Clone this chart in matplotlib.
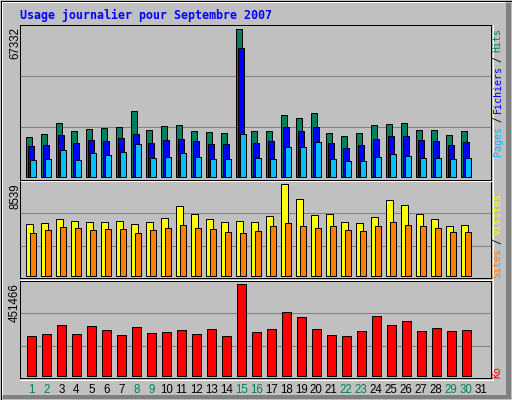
import numpy as np
import matplotlib
matplotlib.use('Agg')
import matplotlib.pyplot as plt
from matplotlib.patches import Rectangle
from matplotlib.lines import Line2D

# daily values, Septembre 2007 (day 31 has no data)
days = np.arange(1, 32)
hits = [18430, 19800, 24830, 21170, 22090, 22550, 23010, 29860, 21630, 23460,
        23920, 21170, 20720, 20260, 67332, 21170, 21170, 28490, 27120, 28950,
        20260, 18890, 20260, 23920, 24380, 24830, 21630, 21630, 19360, 21170, 0]
fichiers = [14020, 14780, 19040, 15690, 17060, 16600, 17980, 19800, 15690, 17060,
            17520, 16600, 15230, 15230, 58660, 15690, 16600, 23010, 21170, 23010,
            15690, 13400, 14780, 17520, 18890, 18890, 17060, 16600, 14780, 16140, 0]
pages = [7920, 8380, 12490, 7920, 11120, 10210, 11580, 15230, 8840, 9290,
         11120, 9290, 8380, 8380, 19800, 8840, 8380, 13860, 13860, 16140,
         8380, 7460, 7460, 9290, 10660, 9750, 8840, 8840, 8380, 8840, 0]
visites = [4811, 4904, 5277, 5091, 4997, 4997, 5091, 4811, 4997, 5370,
           6487, 5742, 5277, 4997, 5091, 4997, 5556, 8539, 7139, 5649,
           5742, 4997, 4904, 5463, 7046, 6580, 5742, 5277, 4625, 4718, 0]
sites = [3973, 4252, 4532, 4439, 4252, 4346, 4346, 3973, 4252, 4439,
         4718, 4439, 4346, 4066, 3973, 4159, 4625, 4904, 4625, 4439,
         4625, 4252, 4159, 4625, 4997, 4718, 4625, 4439, 4066, 4066, 0]
ko = [193500, 203400, 248100, 203400, 243100, 223300, 198500, 238200, 208400, 213400,
      223300, 203400, 228300, 193500, 451466, 213400, 228300, 312600, 287800, 228300,
      198500, 193500, 218300, 292800, 248100, 268000, 218300, 233200, 218300, 223300, 0]
weekend = [1, 2, 8, 9, 15, 16, 22, 23, 29, 30]
title = 'Usage journalier pour Septembre 2007'

BG = '#C0C0C0'
GRID = '#808080'
C_HITS, C_FILES, C_PAGES = '#00805C', '#0000FF', '#00C0FF'
C_VISITS, C_SITES, C_KB = '#FFFF00', '#FF8000', '#FF0000'

W, H = 512, 400
PX = 0.72  # one pixel in points at dpi 100

fig = plt.figure(figsize=(5.12, 4.0), dpi=100)
fig.patch.set_facecolor(BG)


def fx(x):
    return x / W


def fy(y):
    return 1 - y / H


def line(x0, y0, x1, y1, color, lw=1):
    fig.add_artist(Line2D([fx(x0), fx(x1)], [fy(y0), fy(y1)], transform=fig.transFigure,
                          color=color, lw=lw * PX, solid_capstyle='butt'))


# outer frame: shadow, white bevel, black border
fig.add_artist(Rectangle((fx(506), fy(399)), fx(5), 1 - fy(396), transform=fig.transFigure,
                         facecolor=GRID, edgecolor='none'))
fig.add_artist(Rectangle((fx(3), fy(399)), fx(508), 1 - fy(4.5), transform=fig.transFigure,
                         facecolor=GRID, edgecolor='none'))
line(1.5, 1.5, 505, 1.5, 'white')
line(1.5, 1.5, 1.5, 395, 'white')
fig.add_artist(Rectangle((fx(0.5), fy(399.5)), fx(511), 1 - fy(399), transform=fig.transFigure,
                         facecolor='none', edgecolor='black', lw=PX))

x_left, x_right = 20, 491
xlim = (1 + (x_left - 25) / 15, 1 + (x_right - 25) / 15)


def panel(top, bot, base, peak, vmax, grid_px):
    ax = fig.add_axes([fx(x_left), fy(bot), fx(x_right - x_left), (bot - top) / H])
    ax.set_facecolor(BG)
    s = vmax / (base - peak)
    ax.set_ylim(-(bot - base) * s, (base - top) * s)
    ax.set_xlim(*xlim)
    for g in grid_px:
        ax.axhline((base - g) * s, color=GRID, lw=PX, zorder=0)
    for sp in ax.spines.values():
        sp.set_color('black')
        sp.set_linewidth(PX)
    ax.set_xticks([])
    ax.set_yticks([])
    # white bevel on the right and bottom
    line(x_right + 1.5, top, x_right + 1.5, bot + 1.5, 'white')
    line(x_left, bot + 1.5, x_right + 1.5, bot + 1.5, 'white')
    return ax


def bars(ax, vals, off, w, color):
    v = np.array(vals, dtype=float)
    m = v > 0
    ax.bar(days[m] + off / 15, v[m], width=w / 15, align='edge', color=color,
           edgecolor='black', lw=PX, zorder=2)


ax1 = panel(25, 179.5, 177, 29.3, max(hits), [76, 127])
bars(ax1, hits, 0.8, 6, C_HITS)
bars(ax1, fichiers, 2.8, 6, C_FILES)
bars(ax1, pages, 4.8, 6, C_PAGES)

ax2 = panel(181, 278, 276, 184.3, max(visites), [213.3, 246.3])
bars(ax2, visites, 0.8, 7.4, C_VISITS)
bars(ax2, sites, 4.8, 6, C_SITES)

ax3 = panel(281, 378, 375.5, 284.3, max(ko), [313.3, 346.3])
bars(ax3, ko, 1.8, 9, C_KB)

# day labels
ax3.set_xticks(days + 6.3 / 15)
ax3.set_xticklabels([str(d) for d in days], fontsize=8.3, family='Liberation Sans')
ax3.tick_params(axis='x', length=0, pad=4.5)
for d, lab in zip(days, ax3.get_xticklabels()):
    lab.set_color(C_HITS if d in weekend else 'black')

# max values at the top left of each panel
for top, v in [(25, max(hits)), (181, max(visites)), (281, max(ko))]:
    fig.text(fx(15.2), fy(top + 2), str(v), rotation=90, ha='center', va='top',
             fontsize=8.3, family='Liberation Sans', color='black')

fig.text(fx(20), fy(15), title, ha='left', va='center', color='#0000FF',
         fontsize=8.4, fontweight='bold', family='DejaVu Sans Mono')

# legends on the right side, read bottom to top
adv = 5.5


def legend(bottom, parts):
    k = 0
    for s, c in parts:
        n = len(s)
        if s.strip():
            fig.text(fx(497.5), fy(bottom - (k + n / 2) * adv), s, rotation=90,
                     ha='center', va='center', color=c, fontsize=7.2,
                     family='DejaVu Sans Mono')
        k += n


legend(155, [('Pages', C_PAGES), (' ', 'black'), ('/', 'black'), (' ', 'black'),
             ('Fichiers', C_FILES), (' ', 'black'), ('/', 'black'), (' ', 'black'),
             ('Hits', C_HITS)])
legend(277, [('Sites', C_SITES), (' ', 'black'), ('/', 'black'), (' ', 'black'),
             ('Visites', C_VISITS)])
legend(377, [('Ko', C_KB)])

fig.savefig('out.png', dpi=100, facecolor=BG)
